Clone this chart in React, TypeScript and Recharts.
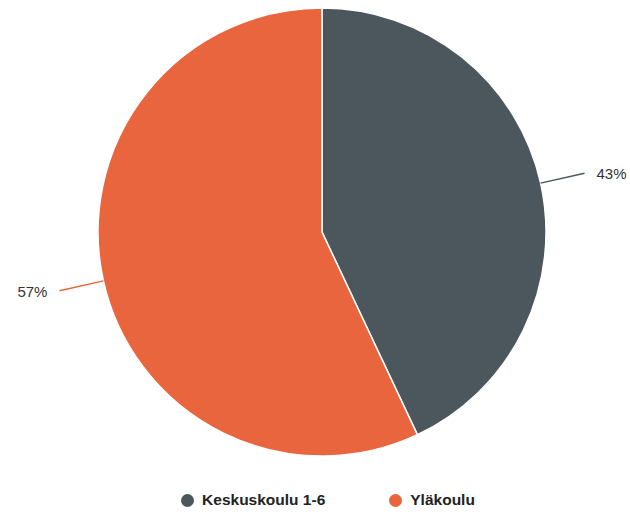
import { PieChart, Pie, Cell, Legend } from 'recharts'

const categories = ['Keskuskoulu 1-6', 'Yläkoulu']
const shares = [43, 57]
const colors = ['#4b575c', '#e8653d']

const pieData = categories.map((name, i) => ({ name, value: shares[i] }))

const RADIAN = Math.PI / 180

function renderLabel(props: any) {
  const { cx, cy, midAngle, outerRadius, value, index } = props
  const cos = Math.cos(-midAngle * RADIAN)
  const sin = Math.sin(-midAngle * RADIAN)
  const sx = cx + outerRadius * cos
  const sy = cy + outerRadius * sin
  const ex = cx + (outerRadius + 45) * cos
  const ey = cy + (outerRadius + 45) * sin
  const right = cos >= 0
  const tx = ex + (right ? 12 : -12)
  return (
    <g>
      <line x1={sx} y1={sy} x2={ex} y2={ey} stroke={colors[index]} strokeWidth={1.5} />
      <text
        x={tx}
        y={ey + 2}
        textAnchor={right ? 'start' : 'end'}
        dominantBaseline="middle"
        fill="#333"
        fontSize={15}
        fontFamily="Liberation Sans, Arial, sans-serif"
      >
        {`${value}%`}
      </text>
    </g>
  )
}

function renderLegend() {
  return (
    <div style={{ display: 'flex', justifyContent: 'center', gap: 64, fontFamily: 'Liberation Sans, Arial, sans-serif', paddingLeft: 26 }}>
      {categories.map((c, i) => (
        <div key={c} style={{ display: 'flex', alignItems: 'center' }}>
          <span style={{ width: 13, height: 13, borderRadius: '50%', background: colors[i], display: 'inline-block', marginRight: 8 }} />
          <span style={{ fontWeight: 'bold', fontSize: 15.5, color: '#222' }}>{c}</span>
        </div>
      ))}
    </div>
  )
}

export default function App() {
  return (
    <div style={{ position: 'absolute', left: 0, top: 0, width: 630, height: 517, background: '#fff' }}>
      <PieChart width={630} height={517} margin={{ top: 0, right: 0, bottom: 0, left: 0 }}>
        <Pie
          data={pieData}
          dataKey="value"
          nameKey="name"
          cx={322}
          cy={232}
          outerRadius={224}
          startAngle={90}
          endAngle={-270}
          stroke="#fff"
          strokeWidth={1.5}
          label={renderLabel}
          labelLine={false}
          isAnimationActive={false}
        >
          {pieData.map((d, i) => (
            <Cell key={d.name} fill={colors[i]} />
          ))}
        </Pie>
        <Legend content={renderLegend} verticalAlign="bottom" wrapperStyle={{ bottom: 8 }} />
      </PieChart>
    </div>
  )
}
